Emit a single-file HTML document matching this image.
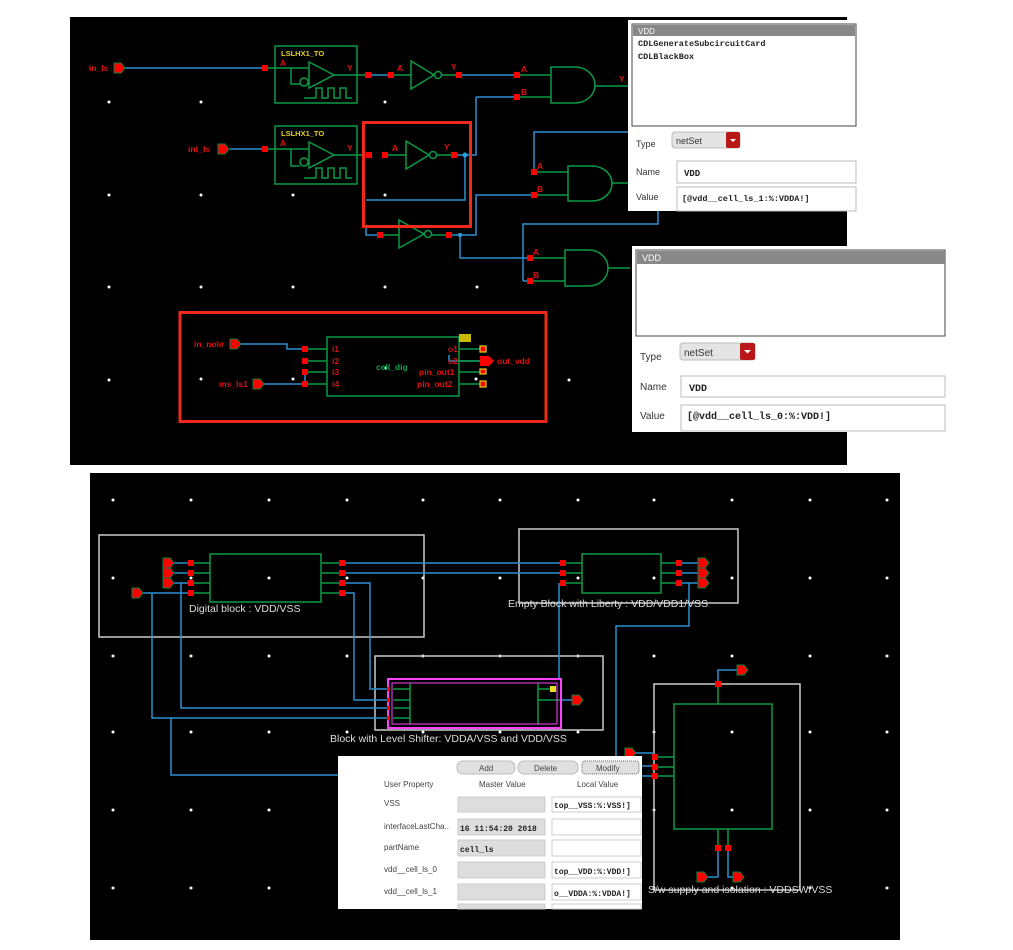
<!DOCTYPE html>
<html><head><meta charset="utf-8"><style>
html,body{margin:0;padding:0;background:#fff;}
svg{display:block;}
.s{font-family:"Liberation Sans",sans-serif;}
.m{font-family:"Liberation Mono",monospace;font-weight:bold;}
</style></head><body>
<svg width="1013" height="950" viewBox="0 0 1013 950" xmlns="http://www.w3.org/2000/svg">
<defs>
<g id="pin"><path d="M0,-5 L7,-5 L11,0 L7,5 L0,5 Z" fill="#f00" stroke="#0a8040" stroke-width="1"/></g>
<g id="sq"><rect x="-3" y="-3" width="6" height="6" fill="#f00"/></g>
</defs>
<rect width="1013" height="950" fill="#fff"/>
<!-- TOP PANEL -->
<rect x="70" y="17" width="777" height="448" fill="#000"/>
<g fill="#fff">
<circle cx="109" cy="102" r="1.5"/><circle cx="201" cy="102" r="1.5"/><circle cx="385" cy="102" r="1.5"/>
<circle cx="109" cy="195" r="1.5"/><circle cx="201" cy="195" r="1.5"/><circle cx="293" cy="195" r="1.5"/><circle cx="385" cy="195" r="1.5"/>
<circle cx="109" cy="287" r="1.5"/><circle cx="201" cy="287" r="1.5"/><circle cx="293" cy="287" r="1.5"/><circle cx="385" cy="287" r="1.5"/><circle cx="477" cy="287" r="1.5"/>
<circle cx="109" cy="380" r="1.5"/><circle cx="569" cy="380" r="1.5"/>
</g>
<g fill="none" stroke-width="1.5">
<g stroke="#2a8fd0">
<path d="M125,68 H265"/><path d="M230,149 H265"/>
<path d="M368,75 H391"/><path d="M459,75 H517"/>
<path d="M476,97 V155 H454"/><path d="M476,97 H517"/>
<path d="M465,155 V200 H366"/>
<path d="M366,228 V235 H380"/><path d="M449,235 H476 V195 H534"/>
<path d="M534,172 V132 H628"/>
<path d="M460,235 V258 H530"/>
<path d="M523,281 V224 H658 V210"/><path d="M523,281 H530"/>
</g>
<g stroke="#0a9a45">
<rect x="275" y="46" width="82" height="57"/><rect x="275" y="126" width="82" height="58"/>
<path d="M265,68 H309 M291,68 V84 H300 M265,149 H309 M291,149 V166 H300"/>
<path d="M309,62 L334,75 L309,88 Z M309,142 L334,155 L309,168 Z"/>
<circle cx="304" cy="82" r="4"/><circle cx="304" cy="162" r="4"/>
<path d="M304,98 H316 V88 H322 V98 H328 V88 H334 V98 H340 V88 H346 V98 H352"/>
<path d="M304,178 H316 V168 H322 V178 H328 V168 H334 V178 H340 V168 H346 V178 H352"/>
<path d="M334,75 H368 M391,75 H411 M334,155 H369"/>
<path d="M411,61 L434,75 L411,89 Z"/><circle cx="438" cy="75" r="3.5"/><path d="M442,75 H459"/>
<path d="M385,155 H406 M406,141 L429,155 L406,169 Z"/><circle cx="433" cy="155" r="3.5"/><path d="M437,155 H454"/>
<path d="M399,220 L424,234 L399,248 Z"/><circle cx="428" cy="234" r="3.5"/><path d="M380,235 H399 M432,235 H449"/>
<path d="M517,75 H551 M517,97 H551 M551,67 H575 A20,18 0 0 1 575,103 H551 Z M595,86 H628"/>
<path d="M534,172 H568 M534,195 H568 M568,166 H592 A20,17.5 0 0 1 592,201 H568 Z M612,183 H628"/>
<path d="M530,258 H565 M530,281 H565 M565,250 H589 A19,18 0 0 1 589,286 H565 Z M608,268 H630"/>
</g>
</g>
<g>
<use href="#pin" x="114" y="68"/><use href="#pin" x="218" y="149"/>
<use href="#sq" x="265" y="68"/><use href="#sq" x="265" y="149"/>
<use href="#sq" x="368" y="75"/><use href="#sq" x="391" y="75"/><use href="#sq" x="459" y="75"/><use href="#sq" x="517" y="75"/><use href="#sq" x="517" y="97"/>
<use href="#sq" x="369" y="155"/><use href="#sq" x="385" y="155"/><use href="#sq" x="454" y="155"/>
<use href="#sq" x="380" y="235"/><use href="#sq" x="449" y="235"/>
<use href="#sq" x="534" y="172"/><use href="#sq" x="534" y="195"/><use href="#sq" x="530" y="258"/><use href="#sq" x="530" y="281"/>
<circle cx="465" cy="155" r="2.5" fill="#2a9fe0"/><circle cx="460" cy="235" r="2" fill="#2a9fe0"/>
</g>
<rect x="363.5" y="122.5" width="107" height="104" fill="none" stroke="#f02a1a" stroke-width="3"/>
<g class="s" font-size="8.5" font-weight="bold" fill="#e01010">
<text x="89" y="71">in_ls</text><text x="188" y="152">int_ls</text>
<text x="280" y="66">A</text><text x="280" y="146">A</text>
<text x="347" y="71">Y</text><text x="347" y="151">Y</text>
<text x="397" y="71">A</text><text x="451" y="70">Y</text><text x="521" y="72">A</text><text x="521" y="95">B</text>
<text x="392" y="151">A</text><text x="444" y="150">Y</text>
<text x="537" y="169">A</text><text x="537" y="192">B</text><text x="533" y="255">A</text><text x="533" y="278">B</text>
<text x="619" y="82">Y</text>
</g>
<g class="s" font-size="7.5" font-weight="bold" fill="#e0d020"><text x="281" y="56">LSLHX1_TO</text><text x="281" y="136">LSLHX1_TO</text></g>
<rect x="180" y="312.5" width="366" height="109" fill="none" stroke="#f02a1a" stroke-width="3"/>
<g fill="#fff"><circle cx="201" cy="379" r="1.5"/><circle cx="293" cy="379" r="1.5"/><circle cx="386" cy="368" r="1.5"/><circle cx="476" cy="379" r="1.5"/></g>
<g fill="none" stroke-width="1.5">
<path stroke="#2a8fd0" d="M240,344 H287 V349 H305 M263,384 H305 M305,372 V384 M449,361 V355 M449,361 H480"/>
<g stroke="#0a9a45"><rect x="327" y="337" width="132" height="59"/><path d="M305,349 H327 M305,361 H327 M305,372 H327 M305,384 H327 M459,349 H483 M459,361 H480 M459,372 H483 M459,384 H483"/></g>
</g>
<use href="#pin" x="230" y="344"/><use href="#pin" x="253" y="384"/>
<path d="M480,356 L489,356 L494,361 L489,366 L480,366 Z" fill="#f00"/>
<use href="#sq" x="305" y="349"/><use href="#sq" x="305" y="361"/><use href="#sq" x="305" y="372"/><use href="#sq" x="305" y="384"/>
<g fill="#f00" stroke="#e0d020" stroke-width="1.2"><rect x="480" y="346" width="6" height="6"/><rect x="480" y="369" width="6" height="5"/><rect x="480" y="381" width="6" height="6"/></g>
<rect x="459" y="334" width="12" height="8" fill="#c8b800"/>
<g class="s" font-size="8.5" font-weight="bold" fill="#e01010">
<text x="194" y="347">in_nole</text><text x="219" y="387">ms_ls1</text>
<text x="332" y="352">i1</text><text x="332" y="364">i2</text><text x="332" y="375">i3</text><text x="332" y="387">i4</text>
<text x="448" y="352">o1</text><text x="448" y="364">o2</text><text x="419" y="375">pin_out1</text><text x="417" y="387">pin_out2</text>
<text x="497" y="364">out_vdd</text>
</g>
<text x="376" y="370" class="s" font-size="8.5" font-weight="bold" fill="#10a050">cell_dig</text>
<!-- Dialog 1 -->
<rect x="628" y="20" width="228" height="191" fill="#fff"/>
<rect x="632" y="24" width="224" height="102" fill="#fff" stroke="#444" stroke-width="1"/>
<rect x="633" y="25" width="222" height="11" fill="#888"/>
<text x="638" y="34" class="s" font-size="8" fill="#fff">VDD</text>
<text x="638" y="46" class="m" font-size="8.5" fill="#222">CDLGenerateSubcircuitCard</text>
<text x="638" y="59" class="m" font-size="8.5" fill="#222">CDLBlackBox</text>
<text x="636" y="147" class="s" font-size="9" fill="#333">Type</text>
<rect x="672" y="132" width="68" height="16" rx="3" fill="#e4e4e4" stroke="#bbb"/><rect x="726" y="132" width="14" height="16" rx="2" fill="#b81818"/>
<path d="M730,139 h6 l-3,3 z" fill="#fff"/>
<text x="676" y="144" class="s" font-size="9" fill="#333">netSet</text>
<text x="636" y="175" class="s" font-size="9" fill="#333">Name</text>
<rect x="677" y="161" width="179" height="22" fill="#fff" stroke="#bbb"/><text x="684" y="176" class="m" font-size="9" fill="#222">VDD</text>
<text x="636" y="200" class="s" font-size="9" fill="#333">Value</text>
<rect x="677" y="187" width="179" height="24" fill="#fff" stroke="#bbb"/><text x="682" y="201" class="m" font-size="8.5" fill="#222">[@vdd__cell_ls_1:%:VDDA!]</text>
<!-- Dialog 2 -->
<rect x="632" y="246" width="313" height="186" fill="#fff"/>
<rect x="636" y="250" width="309" height="86" fill="#fff" stroke="#444"/>
<rect x="637" y="251" width="308" height="13" fill="#888"/>
<text x="642" y="261" class="s" font-size="9" fill="#fff">VDD</text>
<text x="640" y="360" class="s" font-size="10" fill="#333">Type</text>
<rect x="680" y="343" width="75" height="17" rx="3" fill="#e4e4e4" stroke="#bbb"/><rect x="740" y="343" width="15" height="17" rx="2" fill="#b81818"/>
<path d="M744,350 h7 l-3.5,3.5 z" fill="#fff"/>
<text x="684" y="356" class="s" font-size="10" fill="#333">netSet</text>
<text x="640" y="390" class="s" font-size="10" fill="#333">Name</text>
<rect x="681" y="376" width="264" height="21" fill="#fff" stroke="#bbb"/><text x="689" y="391" class="m" font-size="10" fill="#222">VDD</text>
<text x="640" y="419" class="s" font-size="10" fill="#333">Value</text>
<rect x="681" y="405" width="264" height="26" fill="#fff" stroke="#bbb"/><text x="687" y="419" class="m" font-size="10" fill="#222">[@vdd__cell_ls_0:%:VDD!]</text>

<!-- BOTTOM PANEL -->
<rect x="90" y="473" width="810" height="467" fill="#000"/>
<defs>
<g id="row" fill="#fff"><circle cx="113" r="1.5"/><circle cx="191" r="1.5"/><circle cx="269" r="1.5"/><circle cx="347" r="1.5"/><circle cx="423" r="1.5"/><circle cx="500" r="1.5"/><circle cx="578" r="1.5"/><circle cx="654" r="1.5"/><circle cx="732" r="1.5"/><circle cx="810" r="1.5"/><circle cx="887" r="1.5"/></g>
</defs>
<use href="#row" y="500"/><use href="#row" y="578"/><use href="#row" y="656"/><use href="#row" y="732"/><use href="#row" y="810"/><use href="#row" y="888"/>
<g fill="none" stroke-width="1.5">
<g stroke="#ccc" stroke-width="1.5">
<rect x="99" y="535" width="325" height="102"/>
<rect x="519" y="529" width="219" height="74"/>
<rect x="375" y="656" width="228" height="74"/>
<rect x="654" y="684" width="146" height="206"/>
</g>
<g stroke="#2a8fd0">
<path d="M170,563 H191 M170,573 H191 M170,583 H191 M142,593 H191"/>
<path d="M342,563 H563 M342,573 H563 M342,583 H370 V689 H388 M342,593 H354 V700 H388"/>
<path d="M181,583 V708 H388 M152,593 V718 H388 M171,718 V775 H338"/>
<path d="M559,583 V678 M679,563 H698 M679,573 H698 M679,583 H698 M689,583 V626 H616 V760"/>
<path d="M561,700 H572 M634,753 H654 M640,766 H654 M640,776 H654"/>
<path d="M718,684 V670 H737 M718,848 V877 H707 M728,848 V877 H733"/>
</g>
<g stroke="#0a9a45">
<rect x="210" y="554" width="111" height="48"/>
<path d="M191,563 H210 M191,573 H210 M191,583 H210 M191,593 H210 M321,563 H342 M321,573 H342 M321,583 H342 M321,593 H342"/>
<rect x="582" y="554" width="79" height="39"/>
<path d="M563,563 H582 M563,573 H582 M563,583 H582 M661,563 H679 M661,573 H679 M661,583 H679"/>
<rect x="674" y="704" width="98" height="125"/>
<path d="M718,684 V704 M718,829 V848 M728,829 V848 M655,757 H674 M655,767 H674 M655,776 H674"/>
<path d="M393,689 H410 M393,700 H410 M393,708 H410 M393,718 H410 M410,683 V724 M538,683 V724 M538,689 H556 M538,700 H561"/>
</g>
<rect x="388" y="679" width="173" height="49" stroke="#ff40ff" stroke-width="2"/>
<rect x="392" y="683" width="165" height="41" stroke="#ff40ff" stroke-width="1"/>
</g>
<g>
<use href="#pin" x="163" y="563"/><use href="#pin" x="163" y="573"/><use href="#pin" x="163" y="583"/><use href="#pin" x="132" y="593"/>
<use href="#sq" x="191" y="563"/><use href="#sq" x="191" y="573"/><use href="#sq" x="191" y="583"/><use href="#sq" x="191" y="593"/>
<use href="#sq" x="342" y="563"/><use href="#sq" x="342" y="573"/><use href="#sq" x="342" y="583"/><use href="#sq" x="342" y="593"/>
<use href="#sq" x="563" y="563"/><use href="#sq" x="563" y="573"/><use href="#sq" x="563" y="583"/>
<use href="#sq" x="679" y="563"/><use href="#sq" x="679" y="573"/><use href="#sq" x="679" y="583"/>
<use href="#pin" x="698" y="563"/><use href="#pin" x="698" y="573"/><use href="#pin" x="698" y="583"/>
<use href="#pin" x="572" y="700"/><use href="#pin" x="625" y="753"/>
<use href="#sq" x="655" y="757"/><use href="#sq" x="655" y="767"/><use href="#sq" x="655" y="776"/>
<use href="#sq" x="718" y="684"/><use href="#sq" x="718" y="848"/><use href="#sq" x="728" y="848"/>
<use href="#pin" x="737" y="670"/><use href="#pin" x="697" y="877"/><use href="#pin" x="733" y="877"/>
<rect x="550" y="686" width="6" height="6" fill="#e8e020"/>
<g fill="#f00"><rect x="387" y="687" width="3" height="4"/><rect x="387" y="698" width="3" height="4"/><rect x="387" y="706" width="3" height="4"/><rect x="387" y="716" width="3" height="4"/></g>
</g>
<g class="s" font-size="10.5" fill="#ddd">
<text x="189" y="612">Digital block : VDD/VSS</text>
<text x="508" y="607">Empty Block with Liberty : VDD/VDD1/VSS</text>
<text x="330" y="742">Block with Level Shifter: VDDA/VSS and VDD/VSS</text>
<text x="648" y="893">S/w supply and isolation : VDDSW/VSS</text>
</g>
<!-- bottom dialog -->
<rect x="338" y="756" width="304" height="153" fill="#fff"/>
<g class="s" font-size="8" fill="#444">
<rect x="457" y="761" width="58" height="13" rx="6" fill="#e0e0e0" stroke="#bbb"/><text x="479" y="771">Add</text>
<rect x="518" y="761" width="60" height="13" rx="6" fill="#e0e0e0" stroke="#bbb"/><text x="534" y="771">Delete</text>
<rect x="582" y="761" width="57" height="13" rx="3" fill="#e0e0e0" stroke="#666" stroke-dasharray="1,1"/><text x="596" y="771">Modify</text>
<text x="384" y="787">User Property</text><text x="479" y="787">Master Value</text><text x="577" y="787">Local Value</text>
<text x="384" y="806">VSS</text><text x="384" y="829">interfaceLastCha..</text><text x="384" y="850">partName</text><text x="384" y="872">vdd__cell_ls_0</text><text x="384" y="894">vdd__cell_ls_1</text>
</g>
<g fill="#ddd" stroke="#ccc">
<rect x="458" y="797" width="87" height="15"/><rect x="458" y="819" width="87" height="16"/><rect x="458" y="840" width="87" height="16"/><rect x="458" y="862" width="87" height="16"/><rect x="458" y="884" width="87" height="16"/><rect x="458" y="904" width="87" height="5"/>
</g>
<g fill="#fff" stroke="#ccc">
<rect x="552" y="797" width="89" height="15"/><rect x="552" y="819" width="89" height="16"/><rect x="552" y="840" width="89" height="16"/><rect x="552" y="862" width="89" height="16"/><rect x="552" y="884" width="89" height="16"/><rect x="552" y="904" width="89" height="5"/>
</g>
<g class="m" font-size="8" fill="#222">
<text x="554" y="808">top__VSS:%:VSS!]</text>
<text x="460" y="831">16 11:54:20 2018</text>
<text x="460" y="852">cell_ls</text>
<text x="554" y="874">top__VDD:%:VDD!]</text>
<text x="554" y="896">o__VDDA:%:VDDA!]</text>
</g>
</svg>
</body></html>
